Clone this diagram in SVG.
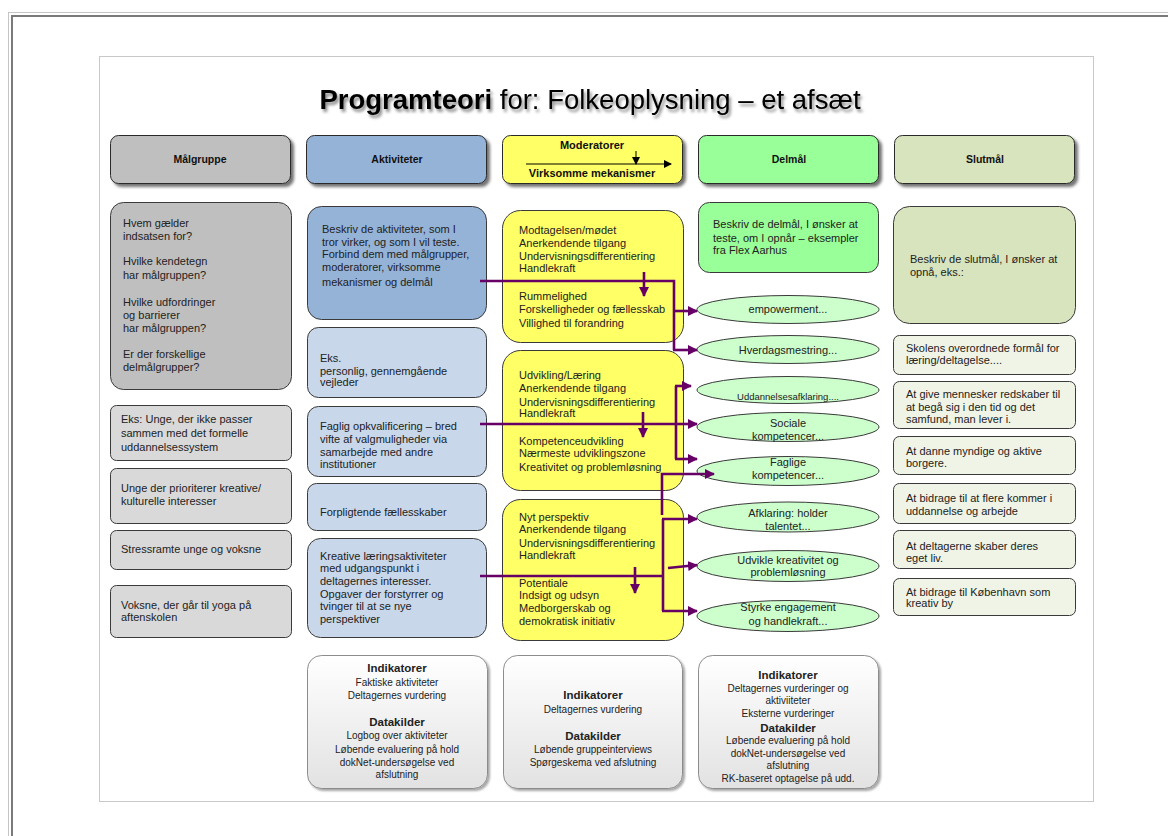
<svg xmlns="http://www.w3.org/2000/svg" width="1168" height="836" viewBox="0 0 1168 836">
<style>
text{font-family:"Liberation Sans",Arial,sans-serif;fill:#222;}
.t{font-size:11px;}
.h{font-size:10.5px;font-weight:bold;fill:#111;text-anchor:middle;}
.hm{font-size:11px;font-weight:bold;fill:#111;text-anchor:middle;}
.c{font-size:10px;text-anchor:middle;}
.cb{font-size:11.5px;font-weight:bold;text-anchor:middle;}
.e{font-size:11px;text-anchor:middle;}
.box{stroke:#3a3a3a;stroke-width:1;}
.hdr{stroke:#2a2a2a;stroke-width:1;filter:url(#sh2);}
.gray{fill:#BFBFBF;}
.lgray{fill:#D9D9D9;}
.blue{fill:#95B3D7;}
.lblue{fill:#C8D7EA;}
.yel{fill:#FFFF66;}
.grn{fill:#99FF99;}
.olive{fill:#D7E4BD;}
.lolive{fill:#F0F4E6;}
.ell{fill:#CCFFCC;stroke:#3a3a3a;stroke-width:1;}
.ind{fill:url(#gr);stroke:#8c8c8c;stroke-width:1;filter:url(#sh1);}
.con{fill:none;stroke:#660066;stroke-width:2.6;}
.arr{fill:none;stroke:#660066;stroke-width:2.6;marker-end:url(#ah);}
</style>
<defs>
<marker id="ah" markerUnits="userSpaceOnUse" markerWidth="10" markerHeight="10" refX="9" refY="5" orient="auto"><path d="M0,0 L10,5 L0,10 z" fill="#660066"/></marker>
<marker id="bh" markerUnits="userSpaceOnUse" markerWidth="8" markerHeight="8" refX="7" refY="4" orient="auto"><path d="M0,0 L8,4 L0,8 z" fill="#000"/></marker>
<filter id="sh1" x="-10%" y="-10%" width="130%" height="130%"><feDropShadow dx="2" dy="2" stdDeviation="1.2" flood-color="#000" flood-opacity="0.35"/></filter>
<filter id="sh2" x="-10%" y="-20%" width="130%" height="160%"><feDropShadow dx="3" dy="3" stdDeviation="1.5" flood-color="#000" flood-opacity="0.55"/></filter>
<filter id="tsh" x="-5%" y="-30%" width="110%" height="160%"><feDropShadow dx="2" dy="3" stdDeviation="1.8" flood-color="#000" flood-opacity="0.45"/></filter>
<linearGradient id="gr" x1="0" y1="0" x2="0" y2="1"><stop offset="0" stop-color="#FFFFFF"/><stop offset="1" stop-color="#E2E2E2"/></linearGradient>
</defs>

<!-- frame -->
<rect x="8.5" y="12.5" width="1200" height="900" fill="none" stroke="#C4C4C4" stroke-width="1"/>
<rect x="12" y="16" width="1200" height="900" fill="none" stroke="#7A7A7A" stroke-width="2"/>
<rect x="99.5" y="56.5" width="994" height="745" fill="#fff" stroke="#C8C8C8" stroke-width="1"/>

<!-- title -->
<text x="590" y="109" text-anchor="middle" filter="url(#tsh)" style="font-size:27.5px;fill:#000;"><tspan font-weight="bold">Programteori</tspan> for: Folkeoplysning – et afsæt</text>

<!-- headers -->
<g id="hdr-malgruppe"><rect class="hdr gray" x="110.5" y="135.5" width="180" height="48" rx="8"/><text class="h" x="200" y="163">Målgruppe</text></g>
<g id="hdr-aktiviteter"><rect class="hdr blue" x="306.5" y="135.5" width="180" height="48" rx="8"/><text class="h" x="397" y="163">Aktiviteter</text></g>
<g id="hdr-moderatorer"><rect class="hdr yel" x="502.5" y="135.5" width="180" height="48" rx="8"/>
<text class="hm" x="592" y="149">Moderatorer</text>
<line x1="526" y1="164" x2="671" y2="164" stroke="#000" stroke-width="1" marker-end="url(#bh)"/>
<line x1="636" y1="151" x2="636" y2="164" stroke="#000" stroke-width="1" marker-end="url(#bh)"/>
<text class="hm" x="592" y="177">Virksomme mekanismer</text></g>
<g id="hdr-delmal"><rect class="hdr grn" x="698.5" y="135.5" width="180" height="48" rx="8"/><text class="h" x="789" y="163">Delmål</text></g>
<g id="hdr-slutmal"><rect class="hdr olive" x="894.5" y="135.5" width="180" height="48" rx="8"/><text class="h" x="985" y="163">Slutmål</text></g>

<!-- Målgruppe column -->
<g id="mg-main"><rect class="box gray" x="110.5" y="202.5" width="181" height="187" rx="13"/>
<text class="t"><tspan x="123" y="227">Hvem gælder</tspan><tspan x="123" y="240">indsatsen for?</tspan><tspan x="123" y="265">Hvilke kendetegn</tspan><tspan x="123" y="279">har målgruppen?</tspan><tspan x="123" y="306">Hvilke udfordringer</tspan><tspan x="123" y="319">og barrierer</tspan><tspan x="123" y="332">har målgruppen?</tspan><tspan x="123" y="358">Er der forskellige</tspan><tspan x="123" y="371">delmålgrupper?</tspan></text></g>
<g id="mg-1"><rect class="box lgray" x="110.5" y="405.5" width="181" height="55" rx="6"/><text class="t"><tspan x="121" y="423">Eks: Unge, der ikke passer</tspan><tspan x="121" y="437">sammen med det formelle</tspan><tspan x="121" y="451">uddannelsessystem</tspan></text></g>
<g id="mg-2"><rect class="box lgray" x="110.5" y="468.5" width="181" height="55" rx="6"/><text class="t"><tspan x="121" y="492">Unge der prioriterer kreative/</tspan><tspan x="121" y="505">kulturelle interesser</tspan></text></g>
<g id="mg-3"><rect class="box lgray" x="110.5" y="530.5" width="181" height="39" rx="6"/><text class="t"><tspan x="121" y="553">Stressramte unge og voksne</tspan></text></g>
<g id="mg-4"><rect class="box lgray" x="110.5" y="585.5" width="181" height="52" rx="6"/><text class="t"><tspan x="121" y="609">Voksne, der går til yoga på</tspan><tspan x="121" y="621">aftenskolen</tspan></text></g>

<!-- Aktiviteter column -->
<g id="akt-main"><rect class="box blue" x="307.5" y="206.5" width="179" height="113" rx="14"/>
<text class="t"><tspan x="322" y="233">Beskriv de aktiviteter, som I</tspan><tspan x="322" y="246">tror virker, og som I vil teste.</tspan><tspan x="322" y="258">Forbind dem med målgrupper,</tspan><tspan x="322" y="271">moderatorer, virksomme</tspan><tspan x="322" y="286">mekanismer og delmål</tspan></text></g>
<g id="akt-1"><rect class="box lblue" x="307.5" y="327.5" width="179" height="70" rx="11"/><text class="t"><tspan x="320" y="362">Eks.</tspan><tspan x="320" y="375">personlig, gennemgående</tspan><tspan x="320" y="386">vejleder</tspan></text></g>
<g id="akt-2"><rect class="box lblue" x="307.5" y="406.5" width="179" height="70" rx="11"/><text class="t"><tspan x="320" y="430">Faglig opkvalificering – bred</tspan><tspan x="320" y="443">vifte af valgmuligheder via</tspan><tspan x="320" y="456">samarbejde med andre</tspan><tspan x="320" y="468">institutioner</tspan></text></g>
<g id="akt-3"><rect class="box lblue" x="307.5" y="483.5" width="179" height="47" rx="9"/><text class="t"><tspan x="320" y="516">Forpligtende fællesskaber</tspan></text></g>
<g id="akt-4"><rect class="box lblue" x="307.5" y="538.5" width="179" height="99" rx="13"/><text class="t"><tspan x="320" y="560"> Kreative læringsaktiviteter</tspan><tspan x="320" y="572">med udgangspunkt i</tspan><tspan x="320" y="585">deltagernes interesser.</tspan><tspan x="320" y="598">Opgaver der forstyrrer og</tspan><tspan x="320" y="610">tvinger til at se nye</tspan><tspan x="320" y="623">perspektiver</tspan></text></g>

<!-- Moderatorer column -->
<g id="mod-1"><rect class="box yel" x="502.5" y="210.5" width="181" height="132" rx="18"/>
<text class="t"><tspan x="519" y="234">Modtagelsen/mødet</tspan><tspan x="519" y="247">Anerkendende tilgang</tspan><tspan x="519" y="260">Undervisningsdifferentiering</tspan><tspan x="519" y="272">Handlekraft</tspan><tspan x="519" y="300">Rummelighed</tspan><tspan x="519" y="313">Forskelligheder og fællesskab</tspan><tspan x="519" y="327">Villighed til forandring</tspan></text></g>
<g id="mod-2"><rect class="box yel" x="502.5" y="350.5" width="181" height="140" rx="18"/>
<text class="t"><tspan x="519" y="379">Udvikling/Læring</tspan><tspan x="519" y="392">Anerkendende tilgang</tspan><tspan x="519" y="406">Undervisningsdifferentiering</tspan><tspan x="519" y="417">Handlekraft</tspan><tspan x="519" y="445">Kompetenceudvikling</tspan><tspan x="519" y="457">Nærmeste udviklingszone</tspan><tspan x="519" y="471">Kreativitet og problemløsning</tspan></text></g>
<g id="mod-3"><rect class="box yel" x="502.5" y="499.5" width="181" height="141" rx="18"/>
<text class="t"><tspan x="519" y="521">Nyt perspektiv</tspan><tspan x="519" y="533">Anerkendende tilgang</tspan><tspan x="519" y="547">Undervisningsdifferentiering</tspan><tspan x="519" y="559">Handlekraft</tspan><tspan x="519" y="587">Potentiale</tspan><tspan x="519" y="599">Indsigt og udsyn</tspan><tspan x="519" y="612">Medborgerskab og</tspan><tspan x="519" y="625">demokratisk initiativ</tspan></text></g>

<!-- Delmål column -->
<g id="del-main"><rect class="box grn" x="698.5" y="202.5" width="180" height="70" rx="11"/>
<text class="t"><tspan x="713" y="228">Beskriv de delmål, I ønsker at</tspan><tspan x="713" y="242">teste, om I opnår – eksempler</tspan><tspan x="713" y="254">fra Flex Aarhus</tspan></text></g>
<g id="del-1"><ellipse class="ell" cx="788" cy="309.5" rx="91" ry="14"/><text class="e" x="788" y="313">empowerment...</text></g>
<g id="del-2"><ellipse class="ell" cx="788" cy="349.5" rx="91" ry="14"/><text class="e" x="788" y="354">Hverdagsmestring...</text></g>
<g id="del-3"><ellipse class="ell" cx="788" cy="390" rx="91" ry="13.5"/><text class="e" x="788" y="400" style="font-size:9.5px">Uddannelsesafklaring....</text></g>
<g id="del-4"><ellipse class="ell" cx="788" cy="427" rx="91" ry="14.5"/><text class="e"><tspan x="788" y="427">Sociale</tspan><tspan x="788" y="440">kompetencer...</tspan></text></g>
<g id="del-5"><ellipse class="ell" cx="788" cy="471" rx="91" ry="14.5"/><text class="e"><tspan x="788" y="466">Faglige</tspan><tspan x="788" y="479">kompetencer...</tspan></text></g>
<g id="del-6"><ellipse class="ell" cx="788" cy="517" rx="91" ry="15"/><text class="e"><tspan x="788" y="517">Afklaring: holder</tspan><tspan x="788" y="530">talentet...</tspan></text></g>
<g id="del-7"><ellipse class="ell" cx="788" cy="566" rx="91" ry="15.5"/><text class="e"><tspan x="788" y="564">Udvikle kreativitet og</tspan><tspan x="788" y="576">problemløsning</tspan></text></g>
<g id="del-8"><ellipse class="ell" cx="788" cy="616" rx="91" ry="15.5"/><text class="e"><tspan x="788" y="611">Styrke engagement</tspan><tspan x="788" y="625">og handlekraft...</tspan></text></g>

<!-- Slutmål column -->
<g id="slut-main"><rect class="box olive" x="893.5" y="206.5" width="182" height="117" rx="16"/>
<text class="t"><tspan x="910" y="263">Beskriv de slutmål, I ønsker at</tspan><tspan x="910" y="276">opnå, eks.:</tspan></text></g>
<g id="slut-1"><rect class="box lolive" x="893.5" y="335.5" width="182" height="39" rx="6"/><text class="t"><tspan x="906" y="352">Skolens overordnede formål for</tspan><tspan x="906" y="364">læring/deltagelse....</tspan></text></g>
<g id="slut-2"><rect class="box lolive" x="893.5" y="381.5" width="182" height="47" rx="6"/><text class="t"><tspan x="906" y="398">At give mennesker redskaber til</tspan><tspan x="906" y="411">at begå sig i den tid og det</tspan><tspan x="906" y="423">samfund, man lever i.</tspan></text></g>
<g id="slut-3"><rect class="box lolive" x="893.5" y="436.5" width="182" height="38" rx="6"/><text class="t"><tspan x="906" y="455">At danne myndige og aktive</tspan><tspan x="906" y="467">borgere.</tspan></text></g>
<g id="slut-4"><rect class="box lolive" x="893.5" y="483.5" width="182" height="40" rx="6"/><text class="t"><tspan x="906" y="502">At bidrage til at flere kommer i</tspan><tspan x="906" y="515">uddannelse og arbejde</tspan></text></g>
<g id="slut-5"><rect class="box lolive" x="893.5" y="530.5" width="182" height="38" rx="6"/><text class="t"><tspan x="906" y="550">At deltagerne skaber deres</tspan><tspan x="906" y="562">eget liv.</tspan></text></g>
<g id="slut-6"><rect class="box lolive" x="893.5" y="578.5" width="182" height="37" rx="6"/><text class="t"><tspan x="906" y="596">At bidrage til København som</tspan><tspan x="906" y="607">kreativ by</tspan></text></g>

<!-- Indicator boxes -->
<g id="ind-akt"><rect class="ind" x="307.5" y="655.5" width="180" height="133" rx="14"/>
<text class="cb" x="397" y="672">Indikatorer</text>
<text class="c"><tspan x="397" y="686">Faktiske aktiviteter</tspan><tspan x="397" y="699">Deltagernes vurdering</tspan></text>
<text class="cb" x="397" y="726">Datakilder</text>
<text class="c"><tspan x="397" y="739">Logbog over aktiviteter</tspan><tspan x="397" y="753">Løbende evaluering på hold</tspan><tspan x="397" y="766">dokNet-undersøgelse ved</tspan><tspan x="397" y="778">afslutning</tspan></text></g>
<g id="ind-mod"><rect class="ind" x="503.5" y="655.5" width="179" height="133" rx="14"/>
<text class="cb" x="593" y="699">Indikatorer</text>
<text class="c"><tspan x="593" y="713">Deltagernes vurdering</tspan></text>
<text class="cb" x="593" y="740">Datakilder</text>
<text class="c"><tspan x="593" y="753">Løbende gruppeinterviews</tspan><tspan x="593" y="766">Spørgeskema ved afslutning</tspan></text></g>
<g id="ind-del"><rect class="ind" x="698.5" y="655.5" width="180" height="133" rx="14"/>
<text class="cb" x="788" y="679">Indikatorer</text>
<text class="c"><tspan x="788" y="692">Deltagernes vurderinger og</tspan><tspan x="788" y="704">aktiviiteter</tspan><tspan x="788" y="717">Eksterne vurderinger</tspan></text>
<text class="cb" x="788" y="732">Datakilder</text>
<text class="c"><tspan x="788" y="744">Løbende evaluering på hold</tspan><tspan x="788" y="757">dokNet-undersøgelse ved</tspan><tspan x="788" y="769">afslutning</tspan><tspan x="788" y="782">RK-baseret optagelse på udd.</tspan></text></g>

<!-- connectors -->
<g id="connectors">
<path class="con" d="M480,281 H674 V350"/>
<path class="arr" d="M674,311 H697"/>
<path class="arr" d="M673,350 H697"/>
<path class="arr" d="M644,272 V296"/>

<path class="con" d="M480,424 H676"/>
<path class="con" d="M676,386 V459"/>
<path class="arr" d="M675,386 H691"/>
<path class="arr" d="M676,424 H697"/>
<path class="arr" d="M675,459 H697"/>
<path class="arr" d="M643,412 V437"/>

<path class="con" d="M480,576 H663"/>
<path class="con" d="M663,519 V611"/>
<path class="arr" d="M662,519 H697"/>
<path class="arr" d="M668,568 L697,565"/>
<path class="arr" d="M662,611 H697"/>
<path class="arr" d="M662,515 V474 H714"/>
<path class="arr" d="M635,567 V593"/>
</g>
</svg>
